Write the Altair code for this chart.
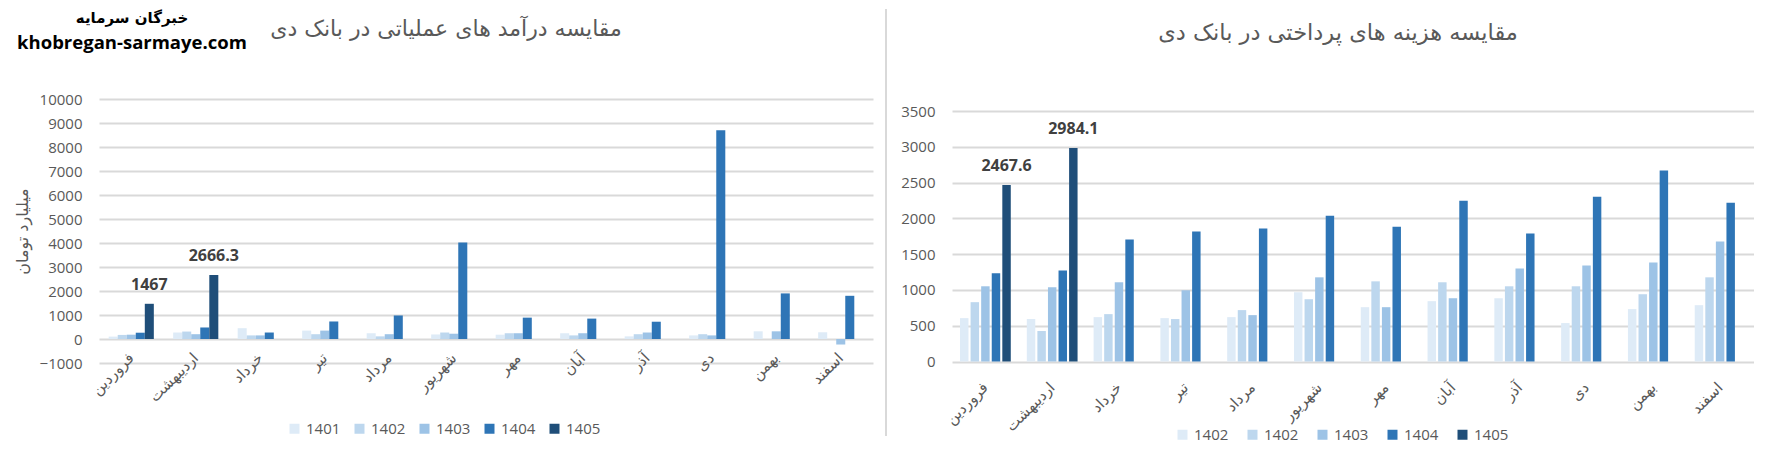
import altair as alt
import pandas as pd

# ---------------- data ----------------
months = ["فروردین", "اردیبهشت", "خرداد", "تیر", "مرداد", "شهریور",
          "مهر", "آبان", "آذر", "دی", "بهمن", "اسفند"]

# left chart: operating income (billion toman)
income_keys = ["1401", "1402", "1403", "1404", "1405"]
income_labels = ["1401", "1402", "1403", "1404", "1405"]
income_1401 = [100, 270, 450, 350, 240, 190, 180, 240, 110, 150, 320, 280]
income_1402 = [170, 310, 150, 200, 110, 270, 240, 150, 200, 200, None, None]
income_1403 = [180, 200, 150, 350, 200, 220, 240, 240, 270, 150, 320, -230]
income_1404 = [262, 480, 270, 730, 980, 4020, 890, 850, 720, 8700, 1900, 1800]
income_1405 = [1467, 2666.3, None, None, None, None, None, None, None, None, None, None]

# right chart: paid expenses
cost_keys = ["1402-a", "1402-b", "1403", "1404", "1405"]
cost_labels = ["1402", "1402", "1403", "1404", "1405"]
cost_1 = [606, 593, 620, 606, 620, 968, 759, 843, 884, 537, 732, 787]
cost_2 = [829, 426, 662, 593, 718, 870, 1120, 1107, 1051, 1051, 940, 1176]
cost_3 = [1051, 1037, 1107, 995, 648, 1176, 759, 884, 1301, 1343, 1384, 1676]
cost_4 = [1232, 1273, 1704, 1815, 1857, 2037, 1884, 2246, 1787, 2301, 2670, 2218]
cost_5 = [2467.6, 2984.1, None, None, None, None, None, None, None, None, None, None]

colors = ["#DEEBF7", "#BDD7EE", "#9DC3E6", "#2E75B6", "#1F4E79"]

title_left = "مقایسه درآمد های عملیاتی در بانک دی"
title_right = "مقایسه هزینه های پرداختی در بانک دی"
y_title_left = "میلیارد تومان"
brand_fa = "خبرگان سرمایه"
brand_en = "khobregan-sarmaye.com"


def long_df(keys, series):
    rows = []
    for k, vals in zip(keys, series):
        for m, v in zip(months, vals):
            if v is not None:
                rows.append({"month": m, "series": k, "value": v})
    return pd.DataFrame(rows)


income_df = long_df(income_keys, [income_1401, income_1402, income_1403, income_1404, income_1405])
cost_df = long_df(cost_keys, [cost_1, cost_2, cost_3, cost_4, cost_5])

GRID = "#D9D9D9"
TXT = "#595959"
NUMF = "Open Sans"
FAF = "DejaVu Sans"


def label_expr(keys, labels):
    expr = "datum.label"
    for k, l in zip(keys, labels):
        expr = f"datum.label == '{k}' ? '{l}' : ({expr})"
    return expr


def panel(df, keys, labels, width, height, ydomain, yvalues, pad_inner, off_inner,
          x_label_pad, y_title, legend_x, legend_y, col_pad):
    yaxis_kwargs = dict(values=yvalues, format="d", labelPadding=17, labelFont=NUMF,
                        labelFontSize=15, labelColor=TXT, gridColor=GRID, gridWidth=1.8,
                        domain=False, ticks=False)
    if y_title:
        yaxis_kwargs.update(title=y_title, titleFont=FAF, titleFontSize=16, titleColor=TXT,
                            titleFontWeight="normal", titleAngle=270, titleX=-77,
                            titleY=height / 2, titleAlign="center", titleBaseline="middle")
    else:
        yaxis_kwargs.update(title=None)

    x = alt.X("month:N", sort=months,
              scale=alt.Scale(paddingInner=pad_inner, paddingOuter=pad_inner / 2),
              axis=alt.Axis(title=None, labelAngle=315, labelAlign="right",
                            labelBaseline="middle", labelPadding=x_label_pad, ticks=False,
                            domain=False, grid=False, labelFont=FAF, labelFontSize=15,
                            labelColor=TXT, labelOverlap=False))
    xo = alt.XOffset("series:N", sort=keys,
                     scale=alt.Scale(domain=keys, paddingInner=off_inner))
    y = alt.Y("value:Q", scale=alt.Scale(domain=ydomain, nice=False, zero=False),
              axis=alt.Axis(**yaxis_kwargs))
    color = alt.Color("series:N",
                      scale=alt.Scale(domain=keys, range=colors),
                      legend=alt.Legend(title=None, orient="none", legendX=legend_x,
                                        legendY=legend_y, direction="horizontal",
                                        columns=5, symbolType="square", symbolSize=100,
                                        symbolStrokeWidth=0, labelFont=NUMF,
                                        labelFontSize=15, labelColor=TXT,
                                        columnPadding=col_pad, padding=0,
                                        labelExpr=label_expr(keys, labels)))

    base = alt.Chart(df)
    bars = base.mark_bar().encode(x=x, xOffset=xo, y=y, color=color)
    text = base.transform_filter(alt.datum.series == "1405").mark_text(
        fontWeight="bold", font=NUMF, fontSize=16, color="#404040",
        baseline="alphabetic", dy=-14
    ).encode(x=x, xOffset=xo, y=y, text=alt.Text("value:Q", format="~f"))
    return bars, text


left_bars, left_text = panel(income_df, income_keys, income_labels, 774, 264,
                             [-1000, 10000], list(range(-1000, 10001, 1000)),
                             0.3, 0.0, -8, y_title_left, 188, 322, 11)
right_bars, right_text = panel(cost_df, cost_keys, cost_labels, 801.5, 262.5,
                               [0, 3668], list(range(0, 3501, 500)),
                               0.24, 0.2, 23, None, 223, 328, 16)

left_title = alt.Chart(pd.DataFrame({"t": [title_left]})).mark_text(
    font=FAF, fontSize=22, color=TXT, baseline="middle", align="center"
).encode(x=alt.value(347), y=alt.value(-70), text="t:N")
brand1 = alt.Chart(pd.DataFrame({"t": [brand_fa]})).mark_text(
    font=FAF, fontSize=15, fontWeight="bold", color="#000000", baseline="middle", align="center"
).encode(x=alt.value(33), y=alt.value(-81), text="t:N")
brand2 = alt.Chart(pd.DataFrame({"t": [brand_en]})).mark_text(
    font=NUMF, fontSize=18.5, fontWeight="bold", color="#000000", baseline="middle", align="center"
).encode(x=alt.value(33), y=alt.value(-56), text="t:N")

right_title = alt.Chart(pd.DataFrame({"t": [title_right]})).mark_text(
    font=FAF, fontSize=22.5, color=TXT, baseline="middle", align="center"
).encode(x=alt.value(386), y=alt.value(-66), text="t:N")
divider = alt.Chart(pd.DataFrame({"t": [0]})).mark_rule(color=GRID, strokeWidth=2).encode(
    x=alt.value(-66), y=alt.value(-90), y2=alt.value(337))

left = alt.layer(left_bars, left_text, left_title, brand1, brand2).properties(width=774, height=264)
right = alt.layer(right_bars, right_text, right_title, divider).properties(width=801.5, height=262.5)

chart = alt.hconcat(left, right, spacing=12).resolve_scale(
    color="independent", x="independent", y="independent", xOffset="independent"
).resolve_legend(color="independent").properties(
    padding={"left": 6, "top": 0, "right": 5, "bottom": 0},
    background="white",
).configure_view(stroke=None)

chart.save("out.html", embed_options={"renderer": "svg", "actions": False})
